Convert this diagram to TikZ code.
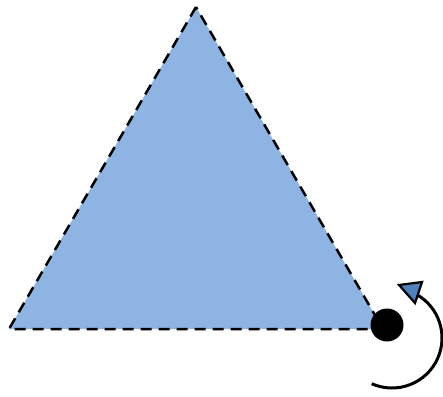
\documentclass[tikz,border=0pt]{standalone}
\usetikzlibrary{calc}
\definecolor{triblue}{RGB}{141,180,226}
\definecolor{arrowblue}{RGB}{79,129,189}
\tikzset{
  triface/.style={fill=triblue, draw=black, line width=2.5pt, dash pattern=on 11pt off 7pt, line join=miter},
  vertexdot/.style={fill=black},
  rotarc/.style={draw=black, line width=3pt},
  rothead/.style={fill=arrowblue, draw=black, line width=2.2pt, line join=miter}
}
\begin{document}
\begin{tikzpicture}[x=1pt,y=-1pt]
\useasboundingbox (0,0) rectangle (443,396);
\coordinate (top) at (196,7);
\coordinate (left) at (9,329);
\coordinate (right) at (383,329);
\coordinate (c) at (392,338);
\path[triface] (top) -- (left) -- (right) -- cycle;
\fill[vertexdot] (387,325) circle[radius=16.5];
\draw[rotarc] ($(c)+(114:50)$) arc[start angle=114, end angle=-60, radius=50];
\path[rothead] (399,285) -- (422,282) -- (415,303) -- cycle;
\end{tikzpicture}
\end{document}
